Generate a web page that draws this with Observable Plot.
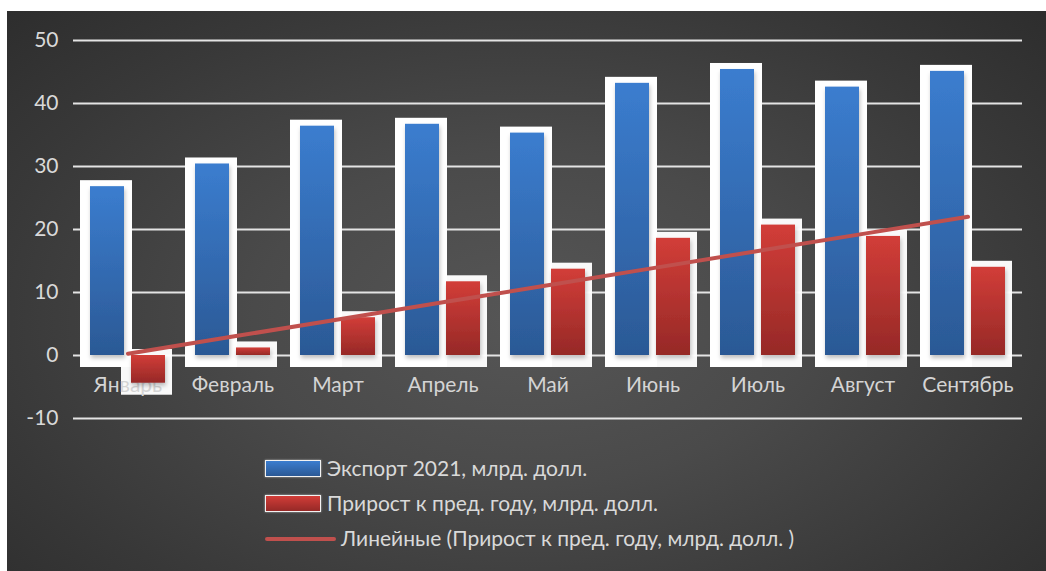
<!DOCTYPE html>
<html>
<head>
<meta charset="utf-8">
<script src="https://cdn.jsdelivr.net/npm/d3@7"></script>
<script src="https://cdn.jsdelivr.net/npm/@observablehq/plot@0.6"></script>
<style>
  html, body { margin: 0; padding: 0; background: #ffffff; }
  body { width: 1046px; height: 571px; position: relative; overflow: hidden; }
  #chart {
    position: absolute; left: 7px; top: 11px; width: 1039px; height: 560px;
    background: radial-gradient(ellipse 75% 85% at 50% 55%, #565656 0%, #4a4a4a 35%, #383838 70%, #2a2a2a 100%);
    font-family: Lato, "Open Sans", sans-serif;
  }
  #chart svg { position: absolute; left: 0; top: 0; }
  .lg-swatch { position: absolute; }
  .lg-text { position: absolute; color: #d9d9d9; font-size: 21px; line-height: 21px; white-space: nowrap; }
</style>
</head>
<body>
<div id="chart"></div>
<script>
const months = ["Январь", "Февраль", "Март", "Апрель", "Май", "Июнь", "Июль", "Август", "Сентябрь"];
const exportValues = [26.8, 30.4, 36.4, 36.7, 35.3, 43.2, 45.4, 42.6, 45.1];
const growthValues = [-4.4, 1.2, 6.0, 11.7, 13.7, 18.6, 20.7, 18.9, 14.0];
const yTicks = [-10, 0, 10, 20, 30, 40, 50];
const seriesNames = [
  "Экспорт 2021, млрд. долл.",
  "Прирост к пред. году, млрд. долл.",
  "Линейные (Прирост к пред. году, млрд. долл. )"
];

const exportRows = months.map((m, i) => ({month: m, value: exportValues[i]}));
const growthRows = months.map((m, i) => ({month: m, value: growthValues[i]}));

// linear trend of the growth series (least squares over month index)
const xs = growthValues.map((_, i) => i + 1);
const mx = d3.mean(xs), my = d3.mean(growthValues);
const slope = d3.sum(xs.map((x, i) => (x - mx) * (growthValues[i] - my))) / d3.sum(xs.map(x => (x - mx) ** 2));
const intercept = my - slope * mx;
const trendRows = months.map((m, i) => ({month: m, value: intercept + slope * (i + 1)}));

const NS = "http://www.w3.org/2000/svg";
function defsMark() {
  const defs = document.createElementNS(NS, "defs");
  const grads = [
    ["gBlue", "#3b7dcf", "#2b5995"],
    ["gRed", "#d23d38", "#962927"]
  ];
  for (const [id, c1, c2] of grads) {
    const g = document.createElementNS(NS, "linearGradient");
    g.setAttribute("id", id);
    g.setAttribute("x1", "0"); g.setAttribute("y1", "0");
    g.setAttribute("x2", "0"); g.setAttribute("y2", "1");
    for (const [off, col] of [["0", c1], ["1", c2]]) {
      const s = document.createElementNS(NS, "stop");
      s.setAttribute("offset", off);
      s.setAttribute("stop-color", col);
      g.appendChild(s);
    }
    defs.appendChild(g);
  }
  const f = document.createElementNS(NS, "filter");
  f.setAttribute("id", "shadow");
  f.setAttribute("x", "-20%"); f.setAttribute("y", "-20%");
  f.setAttribute("width", "140%"); f.setAttribute("height", "140%");
  const ds = document.createElementNS(NS, "feDropShadow");
  ds.setAttribute("dx", "1"); ds.setAttribute("dy", "3");
  ds.setAttribute("stdDeviation", "2");
  ds.setAttribute("flood-color", "#000"); ds.setAttribute("flood-opacity", "0.25");
  f.appendChild(ds);
  defs.appendChild(f);
  return defs;
}

const chart = Plot.plot({
  width: 1039,
  height: 440,
  marginLeft: 66,
  marginRight: 24,
  marginTop: 29,
  marginBottom: 33,
  style: {
    background: "transparent",
    color: "#d9d9d9",
    fontFamily: "Lato, 'Open Sans', sans-serif",
    fontSize: "21px",
    overflow: "visible"
  },
  x: {type: "band", domain: months, paddingInner: 0.29, paddingOuter: 0.145, axis: null},
  y: {domain: [-10, 50], axis: null, label: null},
  marks: [
    defsMark,
    Plot.ruleY(yTicks, {stroke: "#e4e4e4", strokeWidth: 2}),
    Plot.axisY({ticks: yTicks, tickSize: 0, tickPadding: 15, tickFormat: d => String(d), label: null, fill: "#d9d9d9", fontSize: 21}),
    // white frames behind bars
    Plot.barY(exportRows, {x: "month", y: "value", fill: "#ffffff", insetLeft: -10, insetRight: 33, insetTop: -6, insetBottom: -12}),
    Plot.barY(growthRows, {x: "month", y: "value", fill: "#ffffff", fillOpacity: 0.97, insetLeft: 31, insetRight: -7, insetTop: -6, insetBottom: -12}),
    // category labels along the zero line
    Plot.text(months, {x: d => d, y: () => 0, dy: 30, fill: "#d4d4d4", fontSize: 21, textAnchor: "middle"}),
    // bars
    Plot.barY(exportRows, {x: "month", y: "value", fill: "url(#gBlue)", insetRight: 41}),
    Plot.barY(growthRows, {x: "month", y: "value", fill: "url(#gRed)", insetLeft: 41}),
    // trend line
    Plot.line(trendRows, {x: "month", y: "value", stroke: "#c0504d", strokeWidth: 4})
  ]
});
chart.querySelectorAll("g[fill^='url(#g']").forEach(g => g.setAttribute("filter", "url(#shadow)"));
const host = document.getElementById("chart");
host.appendChild(chart);

// legend (HTML, below the plot area)
const legendItems = [
  {label: seriesNames[0], kind: "bar", grad: "linear-gradient(#3b7dcf, #2b5995)", top: 449, textLeft: 320},
  {label: seriesNames[1], kind: "bar", grad: "linear-gradient(#d23d38, #962927)", top: 484, textLeft: 320},
  {label: seriesNames[2], kind: "line", grad: "#c0504d", top: 526, textLeft: 334}
];
for (const it of legendItems) {
  const sw = document.createElement("div");
  sw.className = "lg-swatch";
  if (it.kind === "bar") {
    Object.assign(sw.style, {left: "258px", top: it.top + "px", width: "54px", height: "15px",
      background: it.grad, border: "1px solid #f2f2f2", boxShadow: "0 0 2px rgba(255,255,255,0.6)"});
  } else {
    Object.assign(sw.style, {left: "258px", top: it.top + "px", width: "71px", height: "4px",
      background: it.grad, borderRadius: "2px"});
  }
  host.appendChild(sw);
  const tx = document.createElement("div");
  tx.className = "lg-text";
  tx.textContent = it.label;
  Object.assign(tx.style, {left: it.textLeft + "px", top: (it.kind === "bar" ? it.top - 3 : it.top - 10) + "px"});
  host.appendChild(tx);
}
</script>
</body>
</html>
